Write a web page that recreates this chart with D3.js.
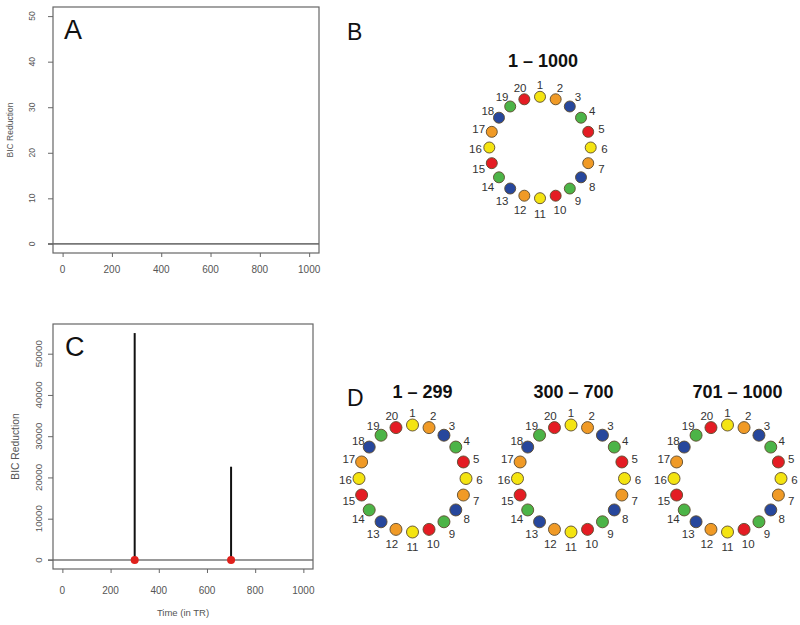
<!DOCTYPE html>
<html>
<head>
<meta charset="utf-8">
<script src="https://cdn.jsdelivr.net/npm/d3@7/dist/d3.min.js"></script>
<style>
  html, body { margin: 0; padding: 0; background: #fff; }
  svg { display: block; font-family: "Liberation Sans", Arial, sans-serif; }
</style>
</head>
<body>
<svg id="chart" width="800" height="625"></svg>
<script>
// ---------------- data ----------------
const xTicks = [0, 200, 400, 600, 800, 1000];
const yTicksA = [0, 10, 20, 30, 40, 50];
const yTicksC = [0, 10000, 20000, 30000, 40000, 50000];
const timeRange = [1, 1000];
const yRangeA = [0, 50];
// change points (time) and BIC reduction values in panel C
const changeTimes = [300, 700];
const changeBIC = [55000, 22600];
// network nodes and their colours
const nodes = [1, 2, 3, 4, 5, 6, 7, 8, 9, 10, 11, 12, 13, 14, 15, 16, 17, 18, 19, 20];
const nodeColors = ["yellow", "orange", "blue", "green", "red",
                    "yellow", "orange", "blue", "green", "red",
                    "yellow", "orange", "blue", "green", "red",
                    "yellow", "orange", "blue", "green", "red"];
const networkTitlesB = ["1 \u2013 1000"];
const networkTitlesD = ["1 \u2013 299", "300 \u2013 700", "701 \u2013 1000"];
const panelLetters = ["A", "B", "C", "D"];

const palette = { yellow: "#f4e411", orange: "#f09a26", blue: "#27479c", green: "#4cb447", red: "#e41c23" };

const svg = d3.select("#chart");
const font = "'Liberation Sans', Arial, sans-serif";

// R-style padded domain
function pad(ext) { const d = (ext[1] - ext[0]) * 0.04; return [ext[0] - d, ext[1] + d]; }

function plotPanel(cfg) {
  const g = svg.append("g");
  const x = d3.scaleLinear().domain(pad(timeRange)).range([cfg.left, cfg.right]);
  const y = d3.scaleLinear().domain(pad(cfg.yExt)).range([cfg.bottom, cfg.top]);

  // y axis
  const ya = d3.axisLeft(y).tickValues(cfg.yTicks).tickSize(5).tickFormat(d3.format("d"));
  const yg = g.append("g").attr("transform", `translate(${cfg.left},0)`).call(ya);
  yg.select(".domain").remove();
  yg.selectAll(".tick line").attr("stroke", "#666");
  yg.selectAll(".tick text").remove();
  g.selectAll(".ytl").data(cfg.yTicks).enter().append("text")
    .attr("transform", d => `translate(${cfg.yLabX},${y(d)}) rotate(-90)`)
    .attr("text-anchor", "middle").attr("dominant-baseline", "central")
    .attr("font-size", cfg.yFont).attr("fill", "#555").attr("font-family", font)
    .text(d => d);

  // x axis
  const xa = d3.axisBottom(x).tickValues(xTicks).tickSize(4).tickFormat(d3.format("d"));
  const xg = g.append("g").attr("transform", `translate(0,${cfg.bottom})`).call(xa);
  xg.select(".domain").remove();
  xg.selectAll(".tick line").attr("stroke", "#666");
  xg.selectAll(".tick text").remove();
  g.selectAll(".xtl").data(xTicks).enter().append("text")
    .attr("x", d => x(d)).attr("y", cfg.xLabY)
    .attr("text-anchor", "middle")
    .attr("font-size", 10).attr("fill", "#555").attr("font-family", font)
    .text(d => d);

  // horizontal zero line
  g.append("line").attr("x1", cfg.left - 5).attr("x2", cfg.right)
    .attr("y1", y(0)).attr("y2", y(0)).attr("stroke", "#777").attr("stroke-width", 1.6);

  // spikes
  if (cfg.times) {
    g.selectAll(".spike").data(cfg.times).enter().append("line")
      .attr("x1", d => x(d)).attr("x2", d => x(d))
      .attr("y1", y(0)).attr("y2", (d, i) => y(cfg.values[i]))
      .attr("stroke", "#111").attr("stroke-width", 2);
    g.selectAll(".dot").data(cfg.times).enter().append("circle")
      .attr("cx", d => x(d)).attr("cy", y(0)).attr("r", 4)
      .attr("fill", "#e0201b");
  }

  // box
  g.append("rect").attr("x", cfg.left).attr("y", cfg.top)
    .attr("width", cfg.right - cfg.left).attr("height", cfg.bottom - cfg.top)
    .attr("fill", "none").attr("stroke", "#666").attr("stroke-width", 1.2);

  // y title
  g.append("text")
    .attr("transform", `translate(${cfg.yTitleX},${(cfg.top + cfg.bottom) / 2}) rotate(-90)`)
    .attr("text-anchor", "middle").attr("dominant-baseline", "central")
    .attr("font-size", cfg.yTitleFont).attr("fill", "#555").attr("font-family", font)
    .text("BIC Reduction");

  if (cfg.xTitle) {
    g.append("text").attr("x", (cfg.left + cfg.right) / 2 + 0).attr("y", cfg.xTitleY)
      .attr("text-anchor", "middle").attr("font-size", 9.5).attr("fill", "#555")
      .attr("font-family", font).text(cfg.xTitle);
  }

  // panel letter
  g.append("text").attr("x", cfg.letterX).attr("y", cfg.letterY)
    .attr("font-size", 27).attr("fill", "#111").attr("font-family", font)
    .text(cfg.letter);
}

plotPanel({ left: 53, right: 319, top: 7, bottom: 253, yExt: yRangeA, yTicks: yTicksA,
  yLabX: 32, yFont: 8.5, xLabY: 273, yTitleX: 10, yTitleFont: 8.5,
  letter: panelLetters[0], letterX: 64, letterY: 39 });

plotPanel({ left: 53, right: 313, top: 324, bottom: 569, yExt: [0, d3.max(changeBIC)], yTicks: yTicksC,
  yLabX: 38, yFont: 9.8, xLabY: 594, yTitleX: 15, yTitleFont: 10.3,
  times: changeTimes, values: changeBIC, xTitle: "Time (in TR)", xTitleY: 616,
  letter: panelLetters[2], letterX: 65, letterY: 356 });

// ---------------- networks ----------------
function network(cfg) {
  const g = svg.append("g").attr("transform", `translate(${cfg.cx},${cfg.cy})`);
  const ang = d3.scaleLinear().domain([0, nodes.length]).range([0, 2 * Math.PI]);
  const px = (i, r) => r * Math.sin(ang(i));
  const py = (i, r) => -r * Math.cos(ang(i));

  g.selectAll(".node").data(nodes).enter().append("circle")
    .attr("cx", (d, i) => px(i, cfg.r)).attr("cy", (d, i) => py(i, cfg.r))
    .attr("r", cfg.dotR)
    .attr("fill", (d, i) => palette[nodeColors[i]])
    .attr("stroke", "#5b4a2c").attr("stroke-width", 0.9);

  g.selectAll(".lab").data(nodes).enter().append("text")
    .attr("x", (d, i) => px(i, cfg.labR)).attr("y", (d, i) => py(i, cfg.labR) + 1.5)
    .attr("text-anchor", "middle").attr("dominant-baseline", "central")
    .attr("font-size", 11.5).attr("fill", "#333").attr("font-family", font)
    .text(d => d);

  svg.append("text").attr("x", cfg.tx).attr("y", cfg.ty)
    .attr("text-anchor", "middle").attr("font-size", 18).attr("font-weight", "bold")
    .attr("fill", "#111").attr("font-family", font).text(cfg.title);
}

network({ cx: 540, cy: 147.5, r: 50.7, dotR: 5.5, labR: 64.5, title: networkTitlesB[0], tx: 543, ty: 67 });
network({ cx: 412.5, cy: 478.5, r: 53.5, dotR: 6, labR: 67, title: networkTitlesD[0], tx: 422.5, ty: 398 });
network({ cx: 571, cy: 478.5, r: 53.5, dotR: 6, labR: 67, title: networkTitlesD[1], tx: 573.5, ty: 398 });
network({ cx: 727.5, cy: 478.5, r: 53.5, dotR: 6, labR: 67, title: networkTitlesD[2], tx: 737.5, ty: 398 });

svg.append("text").attr("x", 347).attr("y", 40).attr("font-size", 23).attr("fill", "#111")
  .attr("font-family", font).text(panelLetters[1]);
svg.append("text").attr("x", 347).attr("y", 406).attr("font-size", 23).attr("fill", "#111")
  .attr("font-family", font).text(panelLetters[3]);
</script>
</body>
</html>
